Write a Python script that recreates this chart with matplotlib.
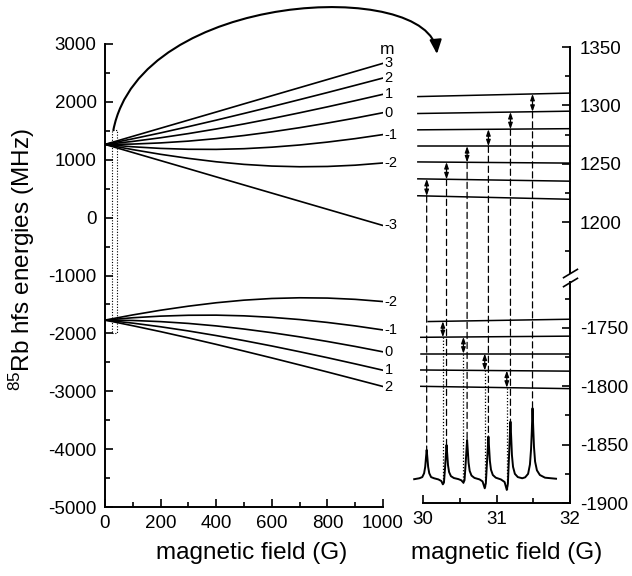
import numpy as np
import matplotlib.pyplot as plt
from matplotlib.patches import FancyArrowPatch, ConnectionPatch, Rectangle
from matplotlib.path import Path
from matplotlib.ticker import MultipleLocator

plt.rcParams['font.family'] = ['Liberation Sans', 'DejaVu Sans']
plt.rcParams['mathtext.fontset'] = 'custom'
plt.rcParams['mathtext.rm'] = 'Liberation Sans'
plt.rcParams['mathtext.it'] = 'Liberation Sans:italic'
plt.rcParams['axes.unicode_minus'] = False

# ---- left panel: hyperfine levels vs field, read every 100 G
field = [0, 100, 200, 300, 400, 500, 600, 700, 800, 900, 1000]
f3_m = ['3', '2', '1', '0', '-1', '-2', '-3']
f3_energy = [
    [1265, 1405, 1545, 1685, 1825, 1966, 2106, 2246, 2386, 2526, 2666],
    [1265, 1362, 1464, 1572, 1684, 1800, 1918, 2039, 2161, 2286, 2412],
    [1265, 1317, 1380, 1452, 1532, 1619, 1712, 1811, 1914, 2021, 2131],
    [1265, 1271, 1291, 1322, 1365, 1419, 1482, 1554, 1634, 1720, 1813],
    [1265, 1224, 1196, 1181, 1179, 1191, 1217, 1255, 1305, 1365, 1435],
    [1265, 1175, 1094, 1024, 965, 920, 891, 879, 884, 906, 944],
    [1265, 1125, 985, 845, 704, 564, 424, 284, 144, 4, -136],
]
f2_m = ['-2', '-1', '0', '1', '2']
f2_energy = [
    [-1771, -1681, -1600, -1530, -1471, -1426, -1397, -1385, -1390, -1412, -1450],
    [-1771, -1730, -1702, -1687, -1685, -1697, -1723, -1761, -1811, -1871, -1941],
    [-1771, -1777, -1797, -1828, -1871, -1925, -1988, -2060, -2140, -2226, -2319],
    [-1771, -1823, -1886, -1958, -2038, -2125, -2218, -2317, -2420, -2527, -2637],
    [-1771, -1868, -1970, -2078, -2190, -2306, -2424, -2545, -2667, -2792, -2918],
]

# ---- right panel: levels near 31 G (start / end field and energies)
f3_lvl_x0 = [29.93] * 7
f3_lvl_e0 = [1307.5, 1293, 1279, 1265, 1251.5, 1237, 1222.5]
f3_lvl_e1 = [1310.5, 1295, 1280, 1265, 1250.5, 1235, 1219.5]
f2_lvl_x0 = [30.07, 29.97, 29.97, 29.97, 29.97]
f2_lvl_e0 = [-1744.5, -1758, -1772, -1786, -1800]
f2_lvl_e1 = [-1742.5, -1757, -1772, -1787, -1802]
lvl_x1 = 32.0

f3_res = [30.05, 30.32, 30.60, 30.89, 31.19, 31.49]
f2_res = [30.27, 30.55, 30.84, 31.14]

spec_field = [29.88, 29.95, 29.99, 30.015, 30.03, 30.04, 30.05, 30.06, 30.07, 30.085, 30.11, 30.15,
              30.21, 30.25, 30.27, 30.285, 30.30, 30.31, 30.32, 30.33, 30.34, 30.355, 30.38, 30.42, 30.48,
              30.52, 30.55, 30.565, 30.58, 30.59, 30.60, 30.61, 30.62, 30.635, 30.66, 30.70, 30.77,
              30.81, 30.84, 30.855, 30.87, 30.88, 30.89, 30.90, 30.91, 30.925, 30.95, 30.99, 31.06,
              31.11, 31.14, 31.155, 31.17, 31.18, 31.19, 31.20, 31.21, 31.225, 31.25, 31.29, 31.35,
              31.39, 31.43, 31.455, 31.47, 31.48, 31.49, 31.50, 31.51, 31.525, 31.55, 31.59, 31.66, 31.81]
spec_signal = [-1879.6, -1878.8, -1877.8, -1874.5, -1869.0, -1861.5, -1854.5, -1861.5, -1869.0, -1874.5, -1877.8, -1878.8,
               -1879.8, -1881.2, -1884.0, -1882.5, -1870.0, -1860.0, -1850.3, -1858.5, -1867.5, -1873.5, -1877.0, -1878.6, -1879.5,
               -1880.5, -1882.6, -1880.5, -1866.5, -1856.0, -1846.0, -1855.5, -1865.5, -1872.5, -1876.5, -1878.5, -1879.8,
               -1881.5, -1887.4, -1883.0, -1866.0, -1855.0, -1843.1, -1853.5, -1864.0, -1871.5, -1876.0, -1878.3, -1879.8,
               -1882.0, -1888.8, -1883.5, -1860.5, -1845.0, -1830.3, -1844.0, -1859.0, -1869.0, -1875.0, -1877.8, -1878.8,
               -1878.0, -1875.0, -1867.0, -1854.0, -1839.0, -1818.8, -1836.0, -1852.0, -1864.5, -1872.0, -1876.0, -1878.3, -1879.2]

W, H = 632, 576
fig = plt.figure(figsize=(W / 100, H / 100), dpi=100)


def frac(x0, y0, x1, y1):
    # pixel box (top-left origin) -> figure fraction rect
    return [x0 / W, 1 - y1 / H, (x1 - x0) / W, (y1 - y0) / H]


ax = fig.add_axes(frac(105, 44, 383, 507))
ax_up = fig.add_axes(frac(423, 47, 570, 273))
ax_lo = fig.add_axes(frac(423, 282, 570, 503))

tick_font = 13.5
lab_font = 17.5

# ---------------- left panel
for row in f3_energy + f2_energy:
    ax.plot(field, row, color='k', lw=1.2)
for lab, row in zip(f3_m, f3_energy):
    ax.annotate(lab, (field[-1], row[-1]), xytext=(1, 0), textcoords='offset points',
                ha='left', va='center', fontsize=10.5, annotation_clip=False)
for lab, row in zip(f2_m, f2_energy):
    ax.annotate(lab, (field[-1], row[-1]), xytext=(1, 0), textcoords='offset points',
                ha='left', va='center', fontsize=10.5, annotation_clip=False)
ax.text(1015, 2900, 'm', ha='center', va='center', fontsize=12.5, clip_on=False)

ax.add_patch(Rectangle((24, -1990), 18, 3510, fill=False, ls=(0, (1, 1.5)),
                       lw=0.8, ec='k'))

ax.set_xlim(0, 1000)
ax.set_ylim(-5000, 3000)
ax.xaxis.set_major_locator(MultipleLocator(200))
ax.xaxis.set_minor_locator(MultipleLocator(100))
ax.yaxis.set_major_locator(MultipleLocator(1000))
ax.yaxis.set_minor_locator(MultipleLocator(500))
for s in ['top', 'right']:
    ax.spines[s].set_visible(False)
for s in ['left', 'bottom']:
    ax.spines[s].set_linewidth(1.4)
ax.tick_params(which='both', direction='in', width=1.2, labelsize=tick_font)
ax.tick_params(which='major', length=6, pad=6)
ax.tick_params(which='minor', length=3.5)

# ---------------- right panel
for x0, e0, e1 in zip(f3_lvl_x0, f3_lvl_e0, f3_lvl_e1):
    ax_up.plot([x0, lvl_x1], [e0, e1], color='k', lw=1.1, clip_on=False)
for x0, e0, e1 in zip(f2_lvl_x0, f2_lvl_e0, f2_lvl_e1):
    ax_lo.plot([x0, lvl_x1], [e0, e1], color='k', lw=1.1, clip_on=False)

ax_lo.plot(spec_field, spec_signal, color='k', lw=1.4, clip_on=False)


def level_at(x, x0, e0, e1):
    return np.interp(x, [x0, lvl_x1], [e0, e1])


arrow_kw = dict(arrowstyle='<|-|>,head_length=0.45,head_width=0.16', color='k',
                lw=0.9, shrinkA=0, shrinkB=0, mutation_scale=8)

for k, xr in enumerate(f3_res):
    lo = 6 - k
    hi = 5 - k
    e_lo = level_at(xr, f3_lvl_x0[lo], f3_lvl_e0[lo], f3_lvl_e1[lo])
    e_hi = level_at(xr, f3_lvl_x0[hi], f3_lvl_e0[hi], f3_lvl_e1[hi])
    ax_up.annotate('', xy=(xr, e_hi), xytext=(xr, e_lo), arrowprops=arrow_kw)
    y_peak = np.interp(xr, spec_field, spec_signal)
    con = ConnectionPatch(xyA=(xr, e_lo), coordsA=ax_up.transData,
                          xyB=(xr, y_peak), coordsB=ax_lo.transData,
                          ls=(0, (5, 3)), lw=0.9, color='k')
    fig.add_artist(con)

for k, xr in enumerate(f2_res):
    hi = k
    lo = k + 1
    e_lo = level_at(xr, f2_lvl_x0[lo], f2_lvl_e0[lo], f2_lvl_e1[lo])
    e_hi = level_at(xr, f2_lvl_x0[hi], f2_lvl_e0[hi], f2_lvl_e1[hi])
    ax_lo.annotate('', xy=(xr, e_hi), xytext=(xr, e_lo), arrowprops=arrow_kw)
    y_dip = np.interp(xr, spec_field, spec_signal)
    ax_lo.plot([xr, xr], [e_lo, y_dip], color='k', lw=0.9, ls=(0, (1, 1.5)))

ax_up.set_xlim(30, 32)
ax_lo.set_xlim(30, 32)
ax_up.set_ylim(1156.3, 1350)
ax_lo.set_ylim(-1900, -1710.6)
for a in (ax_up, ax_lo):
    a.patch.set_visible(False)
    a.yaxis.tick_right()
    a.yaxis.set_major_locator(MultipleLocator(50))
    a.yaxis.set_minor_locator(MultipleLocator(25))
    a.spines['left'].set_visible(False)
    a.spines['top'].set_visible(False)
    a.spines['right'].set_linewidth(1.4)
    a.tick_params(which='both', direction='in', width=1.2, labelsize=tick_font,
                  left=False, right=True)
    a.tick_params(which='major', length=6, pad=7)
    a.tick_params(which='minor', length=3.5)
ax_up.spines['bottom'].set_visible(False)
ax_up.tick_params(which='both', bottom=False, labelbottom=False)
ax_lo.spines['bottom'].set_linewidth(1.4)
ax_lo.xaxis.set_major_locator(MultipleLocator(1))
ax_lo.xaxis.set_minor_locator(MultipleLocator(0.5))
ax_lo.tick_params(axis='x', which='major', pad=6)

# axis break marks
brk = dict(marker=[(-1, -0.6), (1, 0.6)], markersize=11, ls='none', color='k',
           mec='k', mew=1.2, clip_on=False)
ax_up.plot([1], [0], transform=ax_up.transAxes, **brk)
ax_lo.plot([1], [1], transform=ax_lo.transAxes, **brk)

# labels
fig.text(0.035, 1 - 260 / H, r'$^{85}$Rb hfs energies (MHz)', rotation=90,
         ha='center', va='center', fontsize=lab_font)
fig.text(252 / W, 1 - 553 / H, 'magnetic field (G)', ha='center', va='center',
         fontsize=lab_font)
fig.text(507 / W, 1 - 553 / H, 'magnetic field (G)', ha='center', va='center',
         fontsize=lab_font)

# curved arrow from the zoomed region to the right panel
to_fig = fig.transFigure.inverted()
p0 = to_fig.transform(ax.transData.transform((30, 1510)))
p3 = to_fig.transform(ax_up.transData.transform((30.19, 1344)))
p1 = p0 + np.array([27 / W, 140 / H])
p2 = p3 + np.array([-7 / W, 76 / H])
arc = Path([p0, p1, p2, p3], [Path.MOVETO, Path.CURVE4, Path.CURVE4, Path.CURVE4])
fig.add_artist(FancyArrowPatch(path=arc, arrowstyle='-|>,head_length=0.7,head_width=0.3',
                               mutation_scale=12, transform=fig.transFigure,
                               lw=1.5, color='k'))

fig.savefig('out.png', dpi=100)
